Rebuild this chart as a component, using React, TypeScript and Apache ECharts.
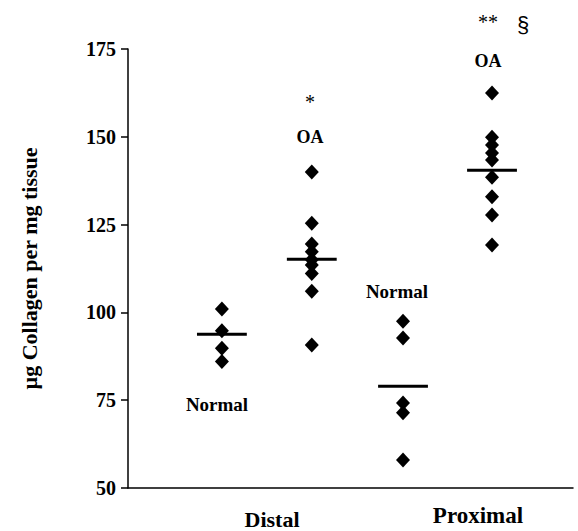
import React, { useEffect, useRef } from "react";
import * as echarts from "echarts";

// Group positions along the hidden x axis (0–100 scale)
const groupNames = ["Distal Normal", "Distal OA", "Proximal Normal", "Proximal OA"];
const groupPos = [21.1, 41.3, 61.8, 81.8];

// Collagen values (µg per mg tissue)
const distalNormal = [101, 94.8, 89.8, 86];
const distalOA = [140, 125.4, 119.5, 117.3, 115, 113.5, 111.1, 106, 90.7];
const proximalNormal = [97.5, 92.7, 74.2, 71.4, 58];
const proximalOA = [162.5, 149.9, 147.7, 145.4, 143.4, 138.5, 132.9, 127.7, 119.2];
const groupMeans = [93.8, 115.1, 79.0, 140.5];

const yTicks = { min: 50, max: 175, interval: 25 };
const yTitle = "µg Collagen per mg tissue";

const SERIF = "'Liberation Serif', 'Times New Roman', serif";

export default function App() {
  const ref = useRef<HTMLDivElement>(null);
  useEffect(() => {
    document.body.style.margin = "0";
    if (!ref.current) return;
    const chart = echarts.init(ref.current, null, { renderer: "svg" });
    const groups = [distalNormal, distalOA, proximalNormal, proximalOA];
    const halfW = 5.6;
    const scatterSeries = groups.map((vals, i) => ({
      type: "scatter",
      name: groupNames[i],
      symbol: "diamond",
      symbolSize: [14, 15],
      itemStyle: { color: "#000", opacity: 1 },
      data: vals.map((v) => [groupPos[i], v]),
      z: 3,
    }));
    const meanSeries = groupMeans.map((m, i) => ({
      type: "line",
      name: groupNames[i] + " mean",
      symbol: "none",
      lineStyle: { color: "#000", width: 3 },
      data: [
        [groupPos[i] - halfW, m],
        [groupPos[i] + halfW, m],
      ],
      z: 4,
    }));
    const txt = (text: string, x: number, y: number, size: number, extra: any = {}) => ({
      type: "text",
      x,
      y,
      style: {
        text,
        fill: "#000",
        font: `bold ${size}px ${SERIF}`,
        align: "center",
        verticalAlign: "middle",
        ...extra,
      },
    });
    chart.setOption({
      animation: false,
      backgroundColor: "#fff",
      grid: { left: 128, right: 5, top: 49, bottom: 43 },
      xAxis: {
        type: "value",
        min: 0,
        max: 100,
        axisLine: { show: true, lineStyle: { color: "#000", width: 1.5 } },
        axisTick: { show: false },
        axisLabel: { show: false },
        splitLine: { show: false },
      },
      yAxis: {
        type: "value",
        min: yTicks.min,
        max: yTicks.max,
        interval: yTicks.interval,
        name: yTitle,
        nameLocation: "middle",
        nameRotate: 90,
        nameGap: 88,
        nameTextStyle: { fontFamily: SERIF, fontWeight: "bold", fontSize: 22, color: "#000" },
        axisLine: { show: true, lineStyle: { color: "#000", width: 1.5 } },
        axisTick: { show: true, length: 7, lineStyle: { color: "#000", width: 1.5 } },
        axisLabel: { fontFamily: SERIF, fontWeight: "bold", fontSize: 20, color: "#000", margin: 12 },
        splitLine: { show: false },
      },
      graphic: [
        txt("Normal", 217, 404, 19),
        txt("OA", 310, 137, 18),
        txt("*", 310, 102, 20, { font: `${20}px ${SERIF}` }),
        txt("Normal", 397, 291, 19),
        txt("OA", 488, 61, 18),
        txt("**", 488, 22, 20, { font: `${20}px ${SERIF}` }),
        txt("§", 523, 24, 22, { font: `22px 'Liberation Sans', Arial, sans-serif` }),
        txt("Distal", 272, 519, 22),
        txt("Proximal", 478, 515, 23),
      ],
      series: [...scatterSeries, ...meanSeries],
    });
    return () => chart.dispose();
  }, []);
  return <div ref={ref} style={{ width: 578, height: 531 }} />;
}
